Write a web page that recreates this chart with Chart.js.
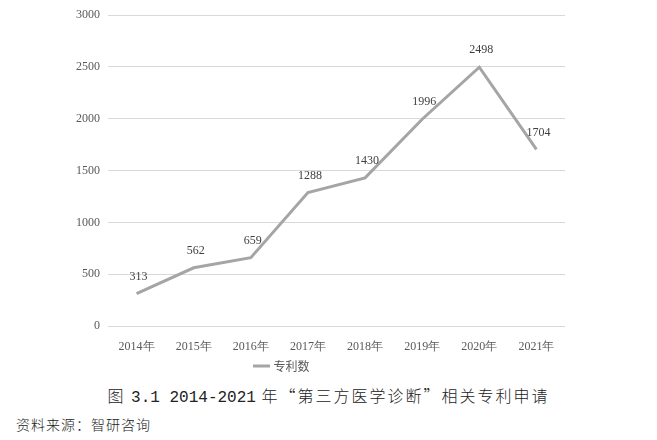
<!DOCTYPE html>
<html><head><meta charset="utf-8">
<script src="https://cdn.jsdelivr.net/npm/chart.js@4/dist/chart.umd.min.js"></script>
<style>
html,body{margin:0;padding:0;background:#fff;width:657px;height:440px;overflow:hidden;}
#wrap{position:absolute;left:0;top:0;width:657px;height:382px;}
#title{position:absolute;left:0;width:657px;top:383px;text-align:center;font-family:"Noto Sans CJK SC",sans-serif;font-weight:300;font-size:16px;color:#222;letter-spacing:2px;white-space:nowrap;}
#title .m{font-family:"Liberation Mono",monospace;font-weight:400;letter-spacing:0;font-size:16px;}
#src{position:absolute;left:16px;top:414px;font-family:"Noto Sans CJK SC",sans-serif;font-weight:300;font-size:14px;color:#222;letter-spacing:1px;}
</style></head>
<body>
<div id="wrap"><canvas id="c"></canvas></div>
<div id="title">图 <span class="m">3.1 2014-2021</span> 年“第三方医学诊断”相关专利申请</div>
<div id="src">资料来源：智研咨询</div>
<script>
const categories = ["2014年","2015年","2016年","2017年","2018年","2019年","2020年","2021年"];
const patents = [313, 562, 659, 1288, 1430, 1996, 2498, 1704];
const seriesName = "专利数";
const yTicks = [0, 500, 1000, 1500, 2000, 2500, 3000];

const labelPlugin = {
  id: 'pointLabels',
  afterDatasetsDraw(chart) {
    const ctx = chart.ctx;
    const meta = chart.getDatasetMeta(0);
    ctx.save();
    ctx.font = '12px "Liberation Serif", "Times New Roman", serif';
    ctx.fillStyle = '#404040';
    ctx.textAlign = 'center';
    ctx.textBaseline = 'middle';
    meta.data.forEach((pt, i) => {
      ctx.fillText(String(patents[i]), pt.x + 2, pt.y - 17);
    });
    ctx.restore();
  }
};

new Chart(document.getElementById('c'), {
  type: 'line',
  data: {
    labels: categories,
    datasets: [{
      label: seriesName,
      data: patents,
      borderColor: '#a5a5a5',
      backgroundColor: '#a5a5a5',
      borderWidth: 3,
      pointRadius: 0,
      tension: 0
    }]
  },
  options: {
    responsive: true,
    maintainAspectRatio: false,
    animation: false,
    layout: { padding: { top: 10, right: 92, left: 0, bottom: 0 } },
    plugins: {
      legend: {
        position: 'bottom',
        labels: {
          usePointStyle: true,
          pointStyle: 'line',
          boxWidth: 26,
          color: '#595959',
          font: { family: '"Noto Sans CJK SC", sans-serif', size: 12 },
          padding: 8
        }
      },
      tooltip: { enabled: false }
    },
    scales: {
      x: {
        offset: true,
        grid: { display: false },
        border: { display: false },
        ticks: { color: '#595959', font: { family: '"Liberation Serif", serif', size: 12 }, padding: 6, maxRotation: 0 },
        afterFit(s) { s.height = 26; }
      },
      y: {
        min: 0, max: 3000,
        afterBuildTicks(s) { s.ticks = yTicks.map(v => ({ value: v })); },
        grid: { color: '#d9d9d9', lineWidth: 1, drawTicks: false },
        border: { display: false },
        ticks: { color: '#595959', font: { family: '"Liberation Serif", serif', size: 12 }, padding: 8, callback: v => String(v) },
        afterFit(s) { s.width = 108; }
      }
    }
  },
  plugins: [labelPlugin]
});
</script>
</body></html>
